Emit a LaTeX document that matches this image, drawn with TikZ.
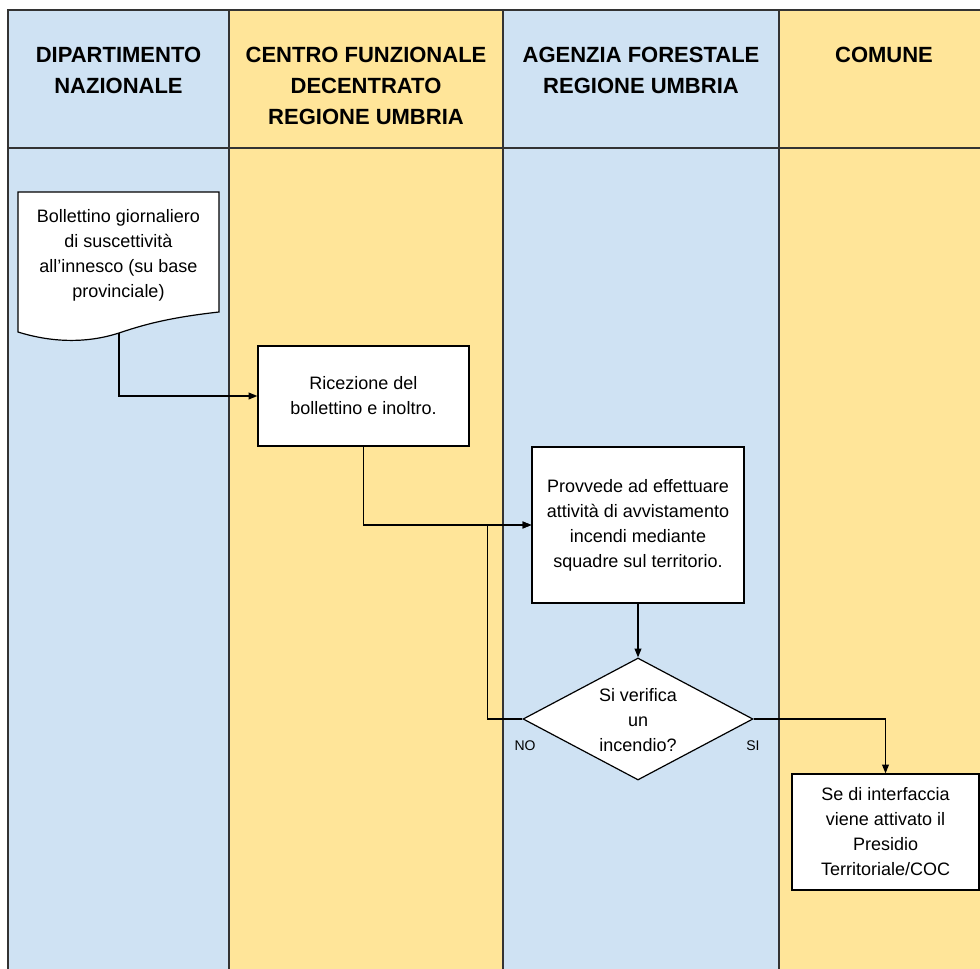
\documentclass[tikz,border=0pt]{standalone}
\usepackage{fontspec}
\setmainfont{Liberation Sans}
\usetikzlibrary{arrows.meta,shapes.geometric}
\definecolor{laneblue}{HTML}{CFE2F3}
\definecolor{laneyellow}{HTML}{FFE599}
\begin{document}
\begin{tikzpicture}[x=0.75pt,y=-0.75pt,
  border/.style={line width=1pt, draw=black!80},
  head/.style={inner sep=0pt, align=center, font=\fontsize{16.5pt}{23.25pt}\selectfont\bfseries},
  body/.style={inner sep=0pt, align=center, font=\fontsize{13.5pt}{18.75pt}\selectfont},
  box/.style={draw=black, line width=0.9pt, fill=white, inner sep=0pt, align=center, font=\fontsize{13.5pt}{18.75pt}\selectfont},
  lbl/.style={inner sep=0pt, font=\fontsize{10.5pt}{12pt}\selectfont},
  conn/.style={line width=1pt, draw=black, -{Triangle[length=6.5pt,width=5pt]}},
  wire/.style={line width=1pt, draw=black}]
\useasboundingbox (0,0) rectangle (980,969);
\fill[white] (0,0) rectangle (980,969);
% lanes
\fill[laneblue] (8,10) rectangle (229,969);
\fill[laneyellow] (229,10) rectangle (503,969);
\fill[laneblue] (503,10) rectangle (779,969);
\fill[laneyellow] (779,10) rectangle (980,969);
\draw[border] (980,10) -- (8,10) -- (8,969);
\draw[border] (8,148) -- (980,148);
\foreach \x in {229,503,779} \draw[border] (\x,10) -- (\x,969);
% headers
\node[head, anchor=north] (h1) at (118.5,47) {DIPARTIMENTO\\NAZIONALE};
\node[head, anchor=north] (h2) at (366,47) {CENTRO FUNZIONALE\\DECENTRATO\\REGIONE UMBRIA};
\node[head, anchor=north] (h3) at (641,47) {AGENZIA FORESTALE\\REGIONE UMBRIA};
\node[head, anchor=north] (h4) at (884,47) {COMUNE};
% document shape
\draw[line width=0.9pt, fill=white] (18,192) -- (219,192) -- (219,312)
  .. controls (165,318) and (140,326) .. (119,333)
  .. controls (85,344) and (50,342) .. (18,332) -- cycle;
\coordinate (docb) at (119,333);
\node[body] (doc) at (118.5,255) {Bollettino giornaliero\\di suscettività\\all’innesco (su base\\provinciale)};
% boxes
\node[box, minimum width=158.25pt, minimum height=75pt] (recv) at (363.5,396) {Ricezione del\\bollettino e inoltro.};
\node[box, minimum width=159pt, minimum height=117pt] (prov) at (638,525) {Provvede ad effettuare\\attività di avvistamento\\incendi mediante\\squadre sul territorio.};
\node[draw=black, line width=0.9pt, fill=white, diamond, inner sep=0pt, minimum width=172.5pt, minimum height=91.5pt] (dec) at (638,719) {};
\node[body] (dectext) at (638,720) {Si verifica\\un\\incendio?};
\node[box, minimum width=140.25pt, minimum height=87pt] (com) at (885.5,832) {Se di interfaccia\\viene attivato il\\Presidio\\Territoriale/COC};
% labels
\node[lbl] (no) at (525,746) {NO};
\node[lbl] (si) at (753,746) {SI};
% connectors
\draw[conn] (docb) |- (recv.west);
\draw[conn] (recv.south) |- (prov.west);
\draw[conn] (prov.south) -- (dec.north);
\draw[conn] (dec.west) -- ++(-35,0) |- (prov.west);
\draw[conn] (dec.east) -| (com.north);
\end{tikzpicture}
\end{document}
